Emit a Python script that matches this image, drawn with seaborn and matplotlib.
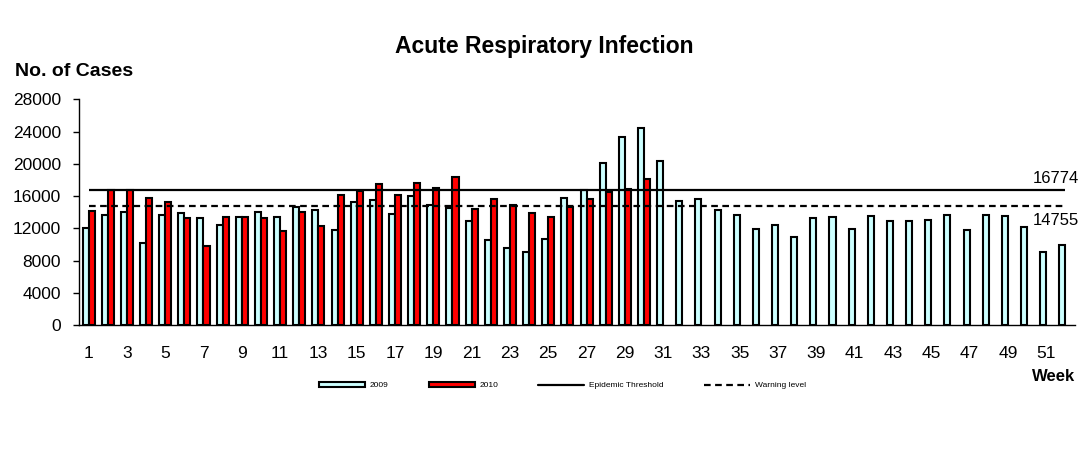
import numpy as np
import pandas as pd
import matplotlib
matplotlib.use("Agg")
import matplotlib.pyplot as plt
import seaborn as sns
from matplotlib.patches import Patch
from matplotlib.lines import Line2D

weeks = list(range(1, 53))
cases_2009 = [12070, 13650, 14020, 10210, 13690, 13890, 13320, 12450, 13440, 14020,
              13440, 14680, 14310, 11830, 15300, 15470, 13810, 16040, 14930, 14470,
              12940, 10580, 9590, 9100, 10710, 15800, 16750, 20060, 23360, 24480,
              20380, 15420, 15670, 14300, 13690, 11950, 12450, 10960, 13320, 13440,
              11950, 13560, 12940, 12940, 13060, 13690, 11830, 13690, 13560, 12200,
              9100, 9960]
cases_2010 = [14140, 16750, 16800, 15800, 15260, 13320, 9840, 13440, 13440, 13320,
              11660, 14020, 12320, 16170, 16620, 17530, 16170, 17650, 17030, 18400,
              14350, 15590, 14850, 13930, 13440, 14640, 15590, 16540, 16910, 18070]
cases_2010 = cases_2010 + [np.nan] * (52 - len(cases_2010))
epidemic_threshold = 16774
warning_level = 14755
y_ticks = [0, 4000, 8000, 12000, 16000, 20000, 24000, 28000]
series_names = ["2009", "2010"]
colors = {"2009": "#CCFFFF", "2010": "#FF0000"}

df = pd.DataFrame({
    "week": [str(w) for w in weeks] * 2,
    "year": ["2009"] * 52 + ["2010"] * 52,
    "cases": cases_2009 + cases_2010,
})

sns.set_theme(style="white")
plt.rcParams["font.family"] = ["Liberation Sans", "DejaVu Sans"]
plt.rcParams["text.color"] = "black"
plt.rcParams["axes.labelcolor"] = "black"
plt.rcParams["xtick.color"] = "black"
plt.rcParams["ytick.color"] = "black"

fig = plt.figure(figsize=(10.88, 4.58), dpi=100)
ax = fig.add_axes([0.0726, 0.2904, 0.9154, 0.4926])

sns.barplot(data=df, x="week", y="cases", hue="year", order=[str(w) for w in weeks],
            hue_order=series_names, palette=colors, width=0.63, dodge=True,
            edgecolor="black", linewidth=1.5, errorbar=None, legend=False, ax=ax, saturation=1)

ax.hlines(epidemic_threshold, 0, 51, colors="black", linewidth=1.6)
ax.hlines(warning_level, 0, 51, colors="black", linewidth=1.6, linestyles=(0, (3, 2)))

ax.annotate(str(epidemic_threshold), xy=(51.7, epidemic_threshold), xytext=(0, 3),
            textcoords="offset points", ha="right", va="bottom", fontsize=12,
            annotation_clip=False, color="black")
ax.annotate(str(warning_level), xy=(51.7, warning_level), xytext=(0, -5),
            textcoords="offset points", ha="right", va="top", fontsize=12,
            annotation_clip=False, color="black")

ax.set_xlim(-0.5, 51.5)
ax.set_ylim(0, 28000)
ax.set_yticks(y_ticks)
ax.set_yticklabels([str(v) for v in y_ticks], fontsize=12.5)
ax.set_xticks(range(52))
ax.set_xticklabels([str(w) if w % 2 == 1 else "" for w in weeks], fontsize=12.5)
ax.set_xticks(np.arange(-0.5, 52, 1), minor=True)
ax.tick_params(axis="x", which="major", length=0, pad=15)
ax.tick_params(axis="x", which="minor", length=4, width=1, direction="out", color="black")
ax.tick_params(axis="y", length=4, width=1, direction="out", color="black", left=True, pad=9)
ax.set_xlabel("")
ax.set_ylabel("")
for s in ["top", "right"]:
    ax.spines[s].set_visible(False)
for s in ["left", "bottom"]:
    ax.spines[s].set_color("black")
    ax.spines[s].set_linewidth(1)

fig.text(0.5, 0.898, "Acute Respiratory Infection", ha="center", va="center",
         fontsize=16.5, fontweight="bold")
fig.text(0.0138, 0.843, "No. of Cases", ha="left", va="center", fontsize=14, fontweight="bold")
fig.text(0.968, 0.177, "Week", ha="center", va="center", fontsize=12, fontweight="bold")

handles = [
    Patch(facecolor=colors["2009"], edgecolor="black", linewidth=1.5),
    Patch(facecolor=colors["2010"], edgecolor="black", linewidth=1.5),
    Line2D([0], [0], color="black", linewidth=1.6),
    Line2D([0], [0], color="black", linewidth=1.6, linestyle=(0, (3, 2))),
]
labels = ["2009", "2010", "Epidemic Threshold", "Warning level"]
fig.legend(handles, labels, loc="center", bbox_to_anchor=(0.517, 0.158), ncol=4,
           frameon=False, fontsize=6, handlelength=5.5, handleheight=0.5,
           columnspacing=4.8, handletextpad=0.6)

fig.savefig("out.png", dpi=100)
